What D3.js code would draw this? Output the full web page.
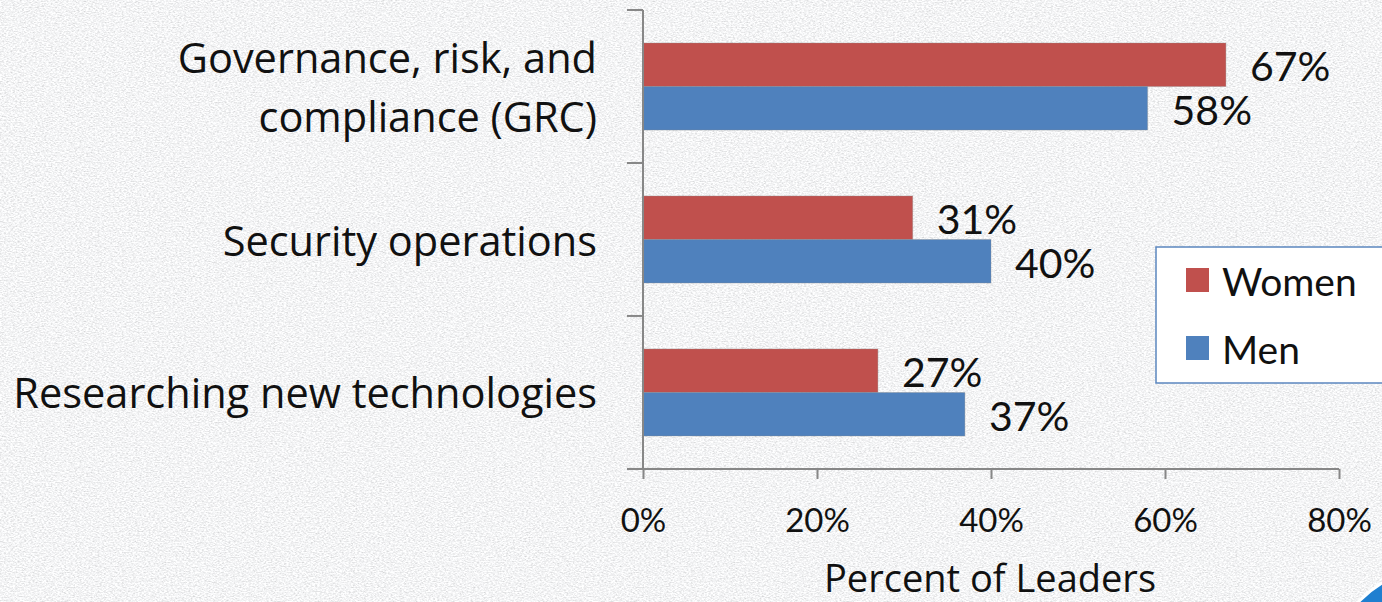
<!DOCTYPE html>
<html>
<head>
<meta charset="utf-8">
<script src="https://cdn.jsdelivr.net/npm/d3@7"></script>
<style>
  html, body { margin: 0; padding: 0; background: #e5e6e8; }
  svg { display: block; font-family: Lato, "Open Sans", sans-serif; }
</style>
</head>
<body>
<div id="chart"></div>
<script>
const categories = ["Governance, risk, and\ncompliance (GRC)", "Security operations", "Researching new technologies"];
const series = ["Women", "Men"];
const women = [67, 31, 27];
const men = [58, 40, 37];
const xTicks = [0, 20, 40, 60, 80];
const colors = {Women: "#c0504d", Men: "#4f81bd"};

const W = 1382, H = 602;
const margin = {left: 643, top: 10, right: 43, bottom: 133};

const svg = d3.select("#chart").append("svg")
    .attr("width", W)
    .attr("height", H);

// textured grey background
const defs = svg.append("defs");
const f = defs.append("filter").attr("id", "tex").attr("x", 0).attr("y", 0).attr("width", "100%").attr("height", "100%");
f.append("feTurbulence").attr("type", "fractalNoise").attr("baseFrequency", "0.45 0.8").attr("numOctaves", 3).attr("seed", 7).attr("result", "n");
f.append("feColorMatrix").attr("in", "n").attr("type", "matrix")
    .attr("values", "0.6 0 0 0 0.6  0.6 0 0 0 0.605  0.6 0 0 0 0.615  0 0 0 0 1");

svg.append("rect").attr("width", W).attr("height", H).attr("fill", "#e3e4e6").attr("filter", "url(#tex)");

// corner decoration
svg.append("circle").attr("cx", 1440).attr("cy", 680).attr("r", 113)
    .attr("fill", "#1f7fd0").attr("stroke", "#ffffff").attr("stroke-width", 3);

const x = d3.scaleLinear().domain([0, 80]).range([margin.left, W - margin.right]);
const y = d3.scaleBand().domain(categories).range([margin.top, H - margin.bottom])
    .paddingInner(0.431).paddingOuter(0.2157);
const ySub = d3.scaleBand().domain(series).range([0, y.bandwidth()]);

const rows = categories.map((c, i) => ({cat: c, vals: [
  {s: "Women", v: women[i]}, {s: "Men", v: men[i]}]}));

const g = svg.append("g");
const grp = g.selectAll("g.cat").data(rows).join("g")
    .attr("transform", d => `translate(0,${y(d.cat)})`);

grp.selectAll("rect").data(d => d.vals).join("rect")
    .attr("x", x(0))
    .attr("y", d => ySub(d.s))
    .attr("width", d => x(d.v) - x(0))
    .attr("height", ySub.bandwidth())
    .attr("fill", d => colors[d.s])
    .attr("stroke", "#8a8a8a").attr("stroke-opacity", 0.35).attr("stroke-width", 1);

grp.selectAll("text.val").data(d => d.vals).join("text")
    .attr("class", "val")
    .attr("x", d => x(d.v) + 24)
    .attr("y", d => ySub(d.s) + ySub.bandwidth() / 2 + 1)
    .attr("dominant-baseline", "central")
    .attr("font-size", 41)
    .attr("fill", "#111")
    .text(d => d.v + "%");

// y axis
const yTickPos = d3.range(categories.length + 1).map(i => margin.top + i * y.step());
const ya = svg.append("g");
ya.append("line").attr("x1", x(0)).attr("x2", x(0)).attr("y1", yTickPos[0]).attr("y2", yTickPos[yTickPos.length - 1])
    .attr("stroke", "#878787").attr("stroke-width", 2);
ya.selectAll("line.tk").data(yTickPos).join("line").attr("class", "tk")
    .attr("x1", x(0) - 16).attr("x2", x(0)).attr("y1", d => d).attr("y2", d => d)
    .attr("stroke", "#878787").attr("stroke-width", 2);

// category labels
ya.selectAll("text.cat").data(categories).join("text").attr("class", "cat")
    .attr("text-anchor", "end")
    .attr("font-size", 41.5)
    .attr("font-family", "'Open Sans', sans-serif")
    .attr("fill", "#111")
    .each(function(d) {
      const lines = d.split("\n");
      const cy = y(d) + y.bandwidth() / 2;
      const lh = 59;
      d3.select(this).selectAll("tspan").data(lines).join("tspan")
        .attr("x", 597)
        .attr("y", (l, i) => cy + (i - (lines.length - 1) / 2) * lh)
        .attr("dominant-baseline", "central")
        .text(l => l);
    });

// x axis
const bottom = H - margin.bottom;
const xa = svg.append("g").attr("transform", `translate(0,${bottom})`)
    .call(d3.axisBottom(x).tickValues(xTicks).tickFormat(d => d + "%").tickSize(10).tickPadding(30));
xa.select(".domain").attr("d", `M${x(0) - 16},0H${x(80)}`).attr("stroke", "#878787").attr("stroke-width", 2);
xa.selectAll(".tick line").attr("stroke", "#878787").attr("stroke-width", 2);
xa.selectAll(".tick text").attr("font-size", 33).attr("fill", "#111").attr("font-family", "Lato, sans-serif");

svg.append("text")
    .attr("x", 990)
    .attr("y", 577)
    .attr("text-anchor", "middle")
    .attr("dominant-baseline", "central")
    .attr("font-size", 38)
    .attr("font-family", "'Open Sans', sans-serif")
    .attr("fill", "#111")
    .text("Percent of Leaders");

// legend
const lg = svg.append("g").attr("transform", "translate(1156,247)");
lg.append("rect").attr("width", 240).attr("height", 136)
    .attr("fill", "#ffffff").attr("stroke", "#5b86bf").attr("stroke-width", 1.5);
const li = lg.selectAll("g.item").data(series).join("g").attr("class", "item")
    .attr("transform", (d, i) => `translate(30,${33 + i * 68})`);
li.append("rect").attr("y", -12).attr("width", 23).attr("height", 24).attr("fill", d => colors[d]);
li.append("text").attr("x", 36).attr("dominant-baseline", "central").attr("y", 1)
    .attr("font-size", 39).attr("fill", "#111").text(d => d);
</script>
</body>
</html>
